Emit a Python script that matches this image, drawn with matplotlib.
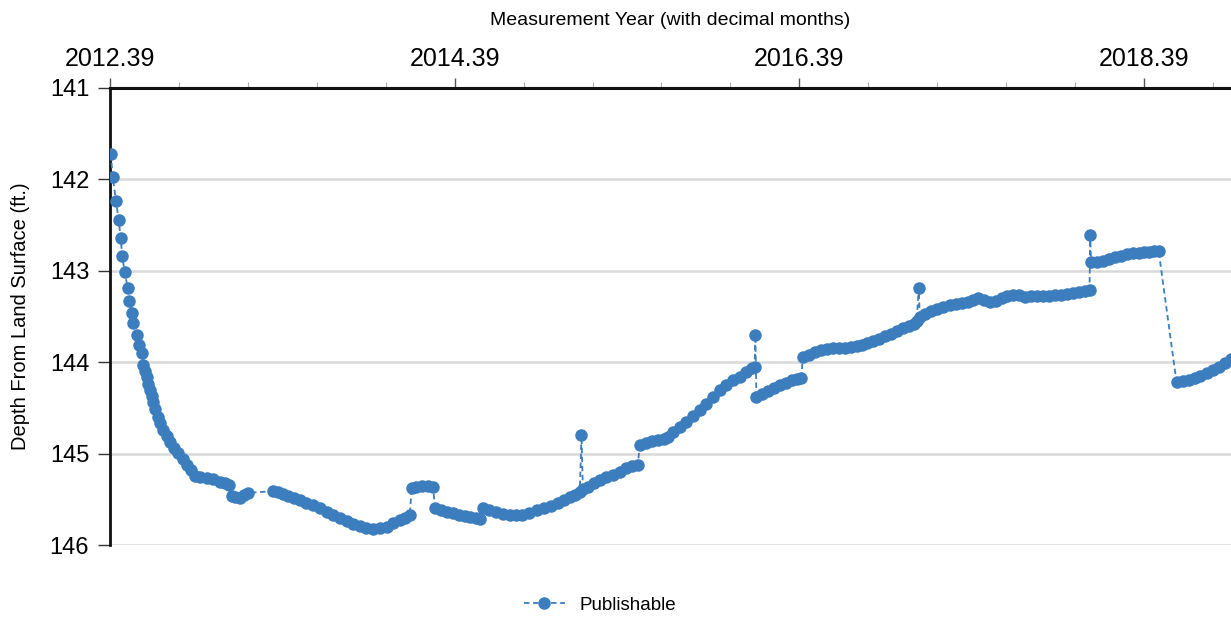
import matplotlib
matplotlib.use("Agg")
import matplotlib.pyplot as plt
from matplotlib.ticker import FixedLocator
from matplotlib.lines import Line2D

plt.rcParams['font.family'] = ['Liberation Sans', 'DejaVu Sans']

# Measurement year (decimal) and depth from land surface (ft)
years = [
    2012.394, 2012.406, 2012.425, 2012.440, 2012.452, 2012.461, 2012.475, 2012.493,
    2012.502, 2012.516, 2012.525, 2012.545, 2012.560, 2012.574, 2012.583, 2012.593,
    2012.603, 2012.612, 2012.622, 2012.632, 2012.641, 2012.654, 2012.670, 2012.683,
    2012.699, 2012.718, 2012.738, 2012.762, 2012.786, 2012.811, 2012.835, 2012.860,
    2012.883, 2012.912, 2012.951, 2012.987, 2013.028, 2013.057, 2013.080,
    2013.096, 2013.115, 2013.144, 2013.167, 2013.192,
    2013.337, 2013.364, 2013.393, 2013.422, 2013.457, 2013.492, 2013.527, 2013.568,
    2013.608, 2013.647, 2013.684, 2013.724, 2013.765, 2013.799, 2013.840, 2013.875,
    2013.917, 2013.956, 2013.995, 2014.032, 2014.072, 2014.101, 2014.130,
    2014.140, 2014.165, 2014.200, 2014.234, 2014.265,
    2014.275, 2014.310, 2014.345, 2014.380, 2014.414, 2014.449, 2014.478, 2014.513, 2014.536,
    2014.554, 2014.588, 2014.629, 2014.670, 2014.710, 2014.745, 2014.780, 2014.820,
    2014.867, 2014.907, 2014.948, 2014.989, 2015.023, 2015.058, 2015.087, 2015.116,
    2015.126,
    2015.134, 2015.163, 2015.197, 2015.232, 2015.267, 2015.308, 2015.348, 2015.383,
    2015.418, 2015.453,
    2015.464, 2015.499, 2015.534, 2015.569, 2015.603, 2015.626, 2015.655, 2015.696,
    2015.731, 2015.772, 2015.812, 2015.847, 2015.888, 2015.928, 2015.963, 2016.004,
    2016.044, 2016.079, 2016.114, 2016.131,
    2016.135,
    2016.141, 2016.172, 2016.207, 2016.242, 2016.276, 2016.311, 2016.346, 2016.375, 2016.402,
    2016.410, 2016.444, 2016.479, 2016.514, 2016.549, 2016.584, 2016.619, 2016.654,
    2016.688, 2016.723, 2016.752, 2016.781, 2016.816, 2016.851, 2016.886, 2016.921,
    2016.955, 2016.990, 2017.025, 2017.054, 2017.071,
    2017.083,
    2017.089, 2017.118, 2017.152, 2017.187, 2017.222, 2017.262, 2017.297, 2017.332,
    2017.367, 2017.396, 2017.425, 2017.459, 2017.494, 2017.529, 2017.564, 2017.598,
    2017.628, 2017.663, 2017.697, 2017.732, 2017.767, 2017.802, 2017.837, 2017.871,
    2017.906, 2017.941, 2017.976, 2018.011, 2018.045, 2018.074,
    2018.078,
    2018.083, 2018.115, 2018.150, 2018.185, 2018.220, 2018.254, 2018.289, 2018.324,
    2018.359, 2018.393, 2018.422, 2018.451, 2018.475,
    2018.579, 2018.614, 2018.649, 2018.684, 2018.718, 2018.753, 2018.788, 2018.823,
    2018.858, 2018.893,
]

depths = [
    141.72, 141.97, 142.24, 142.44, 142.64, 142.84, 143.01, 143.19,
    143.33, 143.46, 143.57, 143.70, 143.81, 143.90, 144.03, 144.10,
    144.16, 144.24, 144.30, 144.37, 144.44, 144.51, 144.60, 144.67,
    144.74, 144.81, 144.87, 144.94, 144.99, 145.06, 145.12, 145.18,
    145.24, 145.26, 145.27, 145.28, 145.31, 145.32, 145.34,
    145.46, 145.48, 145.49, 145.45, 145.43,
    145.41, 145.42, 145.44, 145.46, 145.49, 145.51, 145.54, 145.56,
    145.60, 145.64, 145.67, 145.71, 145.74, 145.77, 145.79, 145.81,
    145.83, 145.81, 145.80, 145.76, 145.73, 145.70, 145.67,
    145.38, 145.36, 145.35, 145.35, 145.36,
    145.60, 145.62, 145.64, 145.65, 145.67, 145.68, 145.69, 145.71, 145.72,
    145.60, 145.62, 145.64, 145.66, 145.67, 145.67, 145.67, 145.65,
    145.62, 145.60, 145.57, 145.54, 145.51, 145.48, 145.45, 145.42,
    144.80,
    145.39, 145.36, 145.32, 145.29, 145.26, 145.23, 145.20, 145.16,
    145.14, 145.12,
    144.91, 144.88, 144.86, 144.85, 144.84, 144.82, 144.76, 144.71,
    144.65, 144.59, 144.52, 144.46, 144.38, 144.30, 144.25, 144.20,
    144.16, 144.11, 144.06, 144.05,
    143.70,
    144.38, 144.35, 144.32, 144.28, 144.25, 144.23, 144.20, 144.18, 144.17,
    143.94, 143.92, 143.89, 143.87, 143.86, 143.85, 143.85, 143.84,
    143.83, 143.82, 143.81, 143.79, 143.77, 143.75, 143.71, 143.69,
    143.66, 143.63, 143.60, 143.58, 143.55,
    143.19,
    143.51, 143.47, 143.44, 143.42, 143.40, 143.37, 143.36, 143.35,
    143.34, 143.32, 143.30, 143.32, 143.34, 143.33, 143.30, 143.28,
    143.26, 143.27, 143.29, 143.28, 143.28, 143.28, 143.28, 143.27,
    143.26, 143.25, 143.24, 143.23, 143.22, 143.21,
    142.61,
    142.90, 142.90, 142.89, 142.87, 142.85, 142.84, 142.82, 142.81,
    142.80, 142.79, 142.79, 142.78, 142.78,
    144.22, 144.21, 144.19, 144.17, 144.15, 144.12, 144.09, 144.05,
    144.01, 143.97,
]

major_ticks = [2012.39, 2014.39, 2016.39, 2018.39]
major_labels = ["2012.39", "2014.39", "2016.39", "2018.39"]
minor_ticks = [2012.39 + 0.4 * k for k in range(17)]
y_ticks = [141, 142, 143, 144, 145, 146]

color = "#3b7dbd"

fig = plt.figure(figsize=(12.31, 6.18), dpi=100)
ax = fig.add_axes([110 / 1231, 1 - 545 / 618, 1 - 110 / 1231, (545 - 88) / 618])

ax.plot(years, depths, linestyle=(0, (3, 2)), color=color, linewidth=1.3,
        marker="o", markersize=9, markeredgewidth=0, clip_on=True, zorder=3)

ax.set_xlim(2012.39, 2018.895)
ax.set_ylim(146, 141)

ax.xaxis.tick_top()
ax.xaxis.set_label_position("top")
ax.set_xticks(major_ticks)
ax.set_xticklabels(major_labels)
ax.xaxis.set_minor_locator(FixedLocator(minor_ticks))
ax.tick_params(axis="x", which="major", length=7, width=1, color="#555555",
               labelsize=18, pad=5)
ax.tick_params(axis="x", which="minor", length=4, width=0.8, color="#aaaaaa")

ax.set_yticks(y_ticks)
ax.set_yticklabels([str(v) for v in y_ticks])
ax.tick_params(axis="y", which="major", length=9, width=1, color="#333333",
               labelsize=17, pad=6)

ax.grid(axis="y", color="#d9d9d9", linewidth=1.8)
ax.grid(axis="x", visible=False)
ax.set_axisbelow(True)

for side in ["right", "bottom"]:
    ax.spines[side].set_visible(False)
ax.spines["top"].set_linewidth(2.2)
ax.spines["left"].set_linewidth(2.0)
ax.spines["top"].set_color("#111111")
ax.spines["left"].set_color("#111111")

ax.set_xlabel("Measurement Year (with decimal months)", fontsize=14, labelpad=16)
ax.set_ylabel("Depth From Land Surface (ft.)", fontsize=14.5, labelpad=14)

handle = Line2D([], [], linestyle=(0, (3, 2)), color=color, linewidth=1.3,
                marker="o", markersize=9, markeredgewidth=0)
fig.legend([handle], ["Publishable"], loc="center", bbox_to_anchor=(600 / 1231, 1 - 605 / 618),
           frameon=False, fontsize=13.5, handlelength=2.2)

fig.savefig("out.png", dpi=100)
